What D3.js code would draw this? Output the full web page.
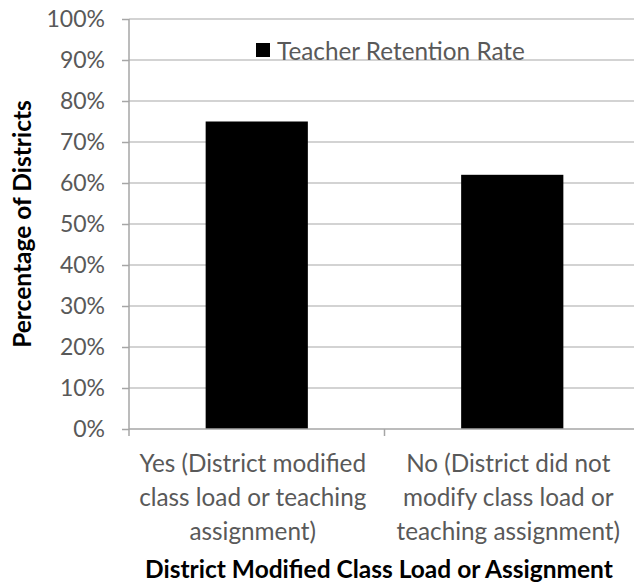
<!DOCTYPE html>
<meta charset="utf-8">
<style>
    body { margin: 0; background: #fff; }
    svg { display: block; }
    .grid line { stroke: #c4c4c4; stroke-width: 1.5px; }
    .axis path, .axis line { stroke: #a6a6a6; stroke-width: 1.5px; }
    .axis text { fill: #595959; font-family: Lato, sans-serif; font-size: 23px; }
    .cat text { fill: #595959; font-family: Lato, sans-serif; font-size: 24.3px; }
    .title { fill: #000; font-family: Lato, sans-serif; font-weight: bold; font-size: 24.5px; }
    .legend text { fill: #595959; font-family: Lato, sans-serif; font-size: 24.3px; }
</style>
<svg width="634" height="584"></svg>
<script src="https://d3js.org/d3.v7.min.js"></script>
<script>

    var categories = ["Yes", "No"];
    var catLabels = [
        ["Yes (District modified", "class load or teaching", "assignment)"],
        ["No (District did not", "modify class load or", "teaching assignment)"]
    ];
    var retention = [0.75, 0.62];
    var yTicks = [0, 0.1, 0.2, 0.3, 0.4, 0.5, 0.6, 0.7, 0.8, 0.9, 1.0];
    var seriesName = "Teacher Retention Rate";

    var svg = d3.select("svg");

    var margin = {left: 129, right: -6, top: 19, bottom: 155},
        width = 634 - margin.left - margin.right,
        height = 584 - margin.top - margin.bottom;

    var g = svg.append("g").attr("transform", "translate(" + margin.left + "," + margin.top + ")");

    var xOuter = d3.scaleBand().domain(categories).range([0, width]);
    var y = d3.scaleLinear().domain([0, 1]).range([height, 0]);

    // gridlines
    g.append("g").attr("class", "grid")
        .selectAll("line").data(yTicks.slice(1)).enter().append("line")
        .attr("x1", 0).attr("x2", width)
        .attr("y1", function(d) { return y(d); })
        .attr("y2", function(d) { return y(d); });

    // y axis
    var yAxis = g.append("g").attr("class", "axis")
        .call(d3.axisLeft(y).tickValues(yTicks).tickFormat(d3.format(".0%")).tickSize(7).tickPadding(17).tickSizeOuter(0));
    yAxis.select(".domain").attr("d", "M0," + (height + 7) + "V0");

    // bars
    g.append("g").selectAll("rect").data(retention).enter().append("rect")
        .attr("x", function(d, i) { return xOuter(categories[i]) + xOuter.bandwidth() / 2 - xOuter.bandwidth() * 0.2; })
        .attr("width", xOuter.bandwidth() * 0.4)
        .attr("y", function(d) { return y(d); })
        .attr("height", function(d) { return height - y(d); })
        .attr("fill", "#000");

    // x axis
    var xAxis = g.append("g").attr("class", "axis")
        .attr("transform", "translate(0," + height + ")")
        .call(d3.axisBottom(xOuter).tickSize(0).tickFormat(""));
    xAxis.select(".domain").attr("d", "M0,0H" + width);
    xAxis.append("line").attr("x1", xOuter.step()).attr("x2", xOuter.step()).attr("y1", 0).attr("y2", 7);

    // category labels
    var cat = g.append("g").attr("class", "cat");
    categories.forEach(function(c, i) {
        var t = cat.append("text")
            .attr("text-anchor", "middle")
            .attr("transform", "translate(" + (xOuter(c) + xOuter.bandwidth() / 2 - 4) + "," + (height + 43) + ")");
        catLabels[i].forEach(function(line, j) {
            t.append("tspan").attr("x", 0).attr("y", j * 34).text(line);
        });
    });

    // axis titles
    svg.append("text").attr("class", "title")
        .attr("text-anchor", "middle")
        .attr("x", 379).attr("y", 578)
        .text("District Modified Class Load or Assignment");

    svg.append("text").attr("class", "title")
        .attr("text-anchor", "middle")
        .attr("transform", "translate(31,224) rotate(-90)")
        .text("Percentage of Districts");

    // legend
    var legend = svg.append("g").attr("class", "legend").attr("transform", "translate(256,43)");
    legend.append("rect").attr("width", 14).attr("height", 14).attr("fill", "#000");
    legend.append("text").attr("x", 21).attr("y", 17).text(seriesName);

</script>
